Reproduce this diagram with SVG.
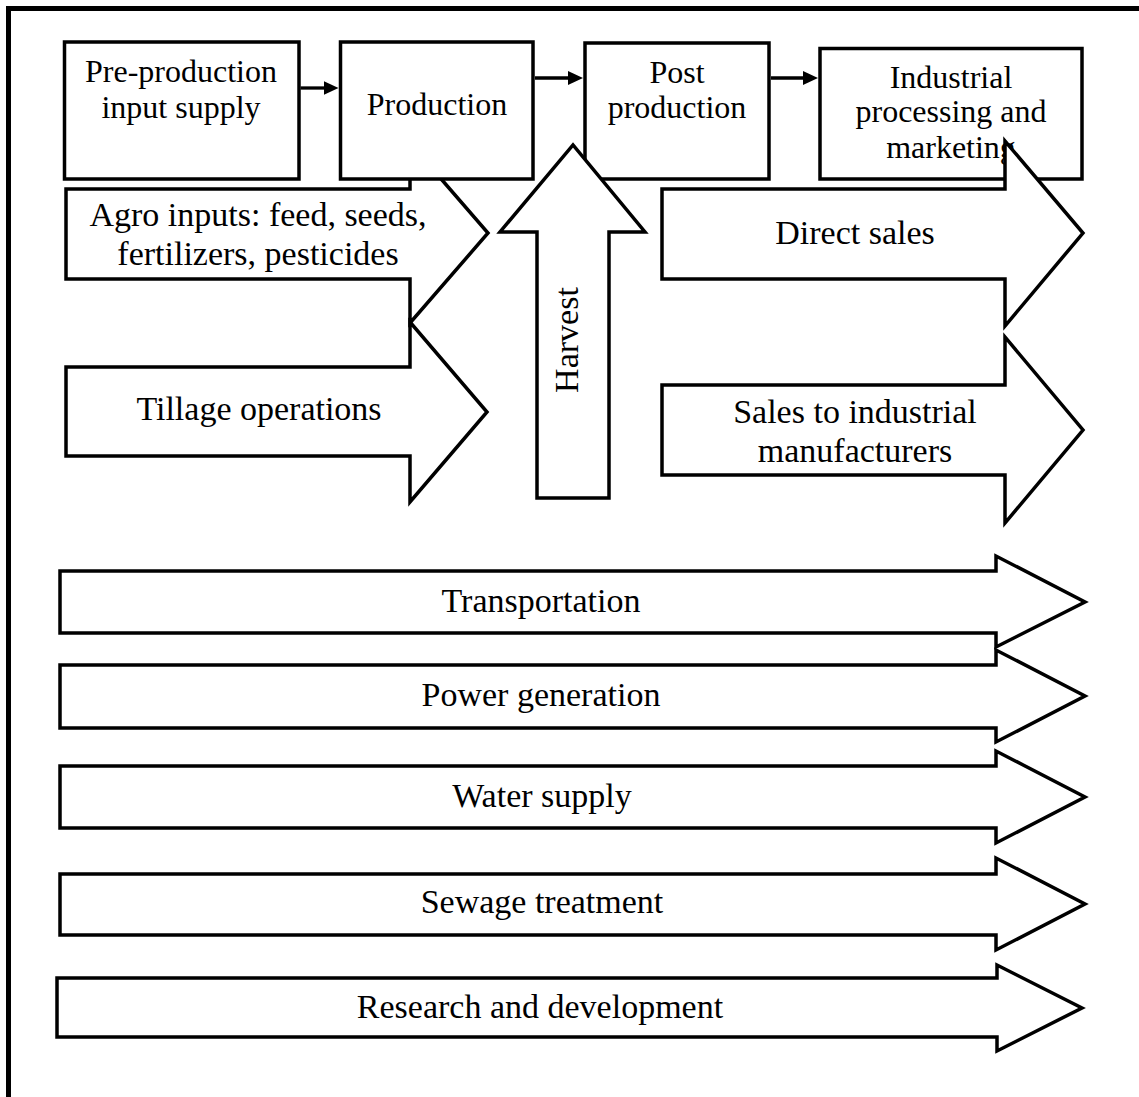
<svg xmlns="http://www.w3.org/2000/svg" width="1139" height="1097" viewBox="0 0 1139 1097">
<style>
.s{fill:#fff;stroke:#000;stroke-width:3.5;stroke-linejoin:miter;stroke-miterlimit:10}
.t{font-family:"Liberation Serif","Times New Roman",serif;fill:#000;text-anchor:middle}
.b{font-size:32px}
.a{font-size:34px}
.c{stroke:#000;stroke-width:3.3;fill:none}
</style>
<defs>
<marker id="ah" markerWidth="15" markerHeight="14" refX="3" refY="7" orient="auto" markerUnits="userSpaceOnUse">
<path d="M0,0 L15,7 L0,14 Z" fill="#000"/>
</marker>
</defs>
<rect width="1139" height="1097" fill="#fff"/>
<path d="M8.5,1097 V8.5 H1139" fill="none" stroke="#000" stroke-width="5"/>

<g id="agro">
<path class="s" d="M66,189 H410 V143 L488,233 L410,323 V279 H66 Z"/>
<text class="t a" x="258" y="226">Agro inputs: feed, seeds,</text>
<text class="t a" x="258" y="265">fertilizers, pesticides</text>
</g>
<g id="tillage">
<path class="s" d="M66,367 H410 V322 L487,412 L410,502 V456 H66 Z"/>
<text class="t a" x="259" y="420">Tillage operations</text>
</g>

<g id="preproduction">
<rect class="s" x="64.5" y="42" width="234.5" height="137"/>
<text class="t b" x="181" y="82">Pre-production</text>
<text class="t b" x="181" y="118">input supply</text>
</g>
<g id="production">
<rect class="s" x="340.5" y="42" width="192.5" height="137"/>
<text class="t b" x="437" y="115">Production</text>
</g>
<g id="postproduction">
<rect class="s" x="585" y="43" width="184" height="136"/>
<text class="t b" x="677" y="83">Post</text>
<text class="t b" x="677" y="118">production</text>
</g>
<g id="industrial">
<rect class="s" x="820" y="48.5" width="262" height="130.5"/>
<text class="t b" x="951" y="88">Industrial</text>
<text class="t b" x="951" y="122">processing and</text>
<text class="t b" x="951" y="158">marketing</text>
</g>

<g id="connectors">
<line class="c" x1="300.5" y1="88" x2="326.5" y2="88" marker-end="url(#ah)"/>
<line class="c" x1="535" y1="78" x2="571" y2="78" marker-end="url(#ah)"/>
<line class="c" x1="771" y1="78" x2="806" y2="78" marker-end="url(#ah)"/>
</g>

<g id="harvest">
<path class="s" d="M537,498 V232 H500 L573,145 L645,232 H609 V498 Z"/>
<text class="t a" transform="translate(578,340) rotate(-90)">Harvest</text>
</g>
<g id="directsales">
<path class="s" d="M662,189 H1005 V141 L1083,233 L1005,326 V279 H662 Z"/>
<text class="t a" x="855" y="244">Direct sales</text>
</g>
<g id="industrialsales">
<path class="s" d="M662,385 H1005 V337 L1083,430 L1005,523 V475 H662 Z"/>
<text class="t a" x="855" y="423">Sales to industrial</text>
<text class="t a" x="855" y="462">manufacturers</text>
</g>

<g id="transportation">
<path class="s" d="M60,571 H996 V556 L1085,602 L996,647 V633 H60 Z"/>
<text class="t a" x="541" y="612">Transportation</text>
</g>
<g id="power">
<path class="s" d="M60,665 H996 V650 L1085,696 L996,742 V728 H60 Z"/>
<text class="t a" x="541" y="706">Power generation</text>
</g>
<g id="water">
<path class="s" d="M60,766 H996 V751 L1085,797 L996,843 V828 H60 Z"/>
<text class="t a" x="542" y="807">Water supply</text>
</g>
<g id="sewage">
<path class="s" d="M60,874 H996 V858 L1085,904 L996,950 V935 H60 Z"/>
<text class="t a" x="542" y="913">Sewage treatment</text>
</g>
<g id="research">
<path class="s" d="M57,978 H997 V965 L1082,1008 L997,1051 V1037 H57 Z"/>
<text class="t a" x="540" y="1018">Research and development</text>
</g>
</svg>
